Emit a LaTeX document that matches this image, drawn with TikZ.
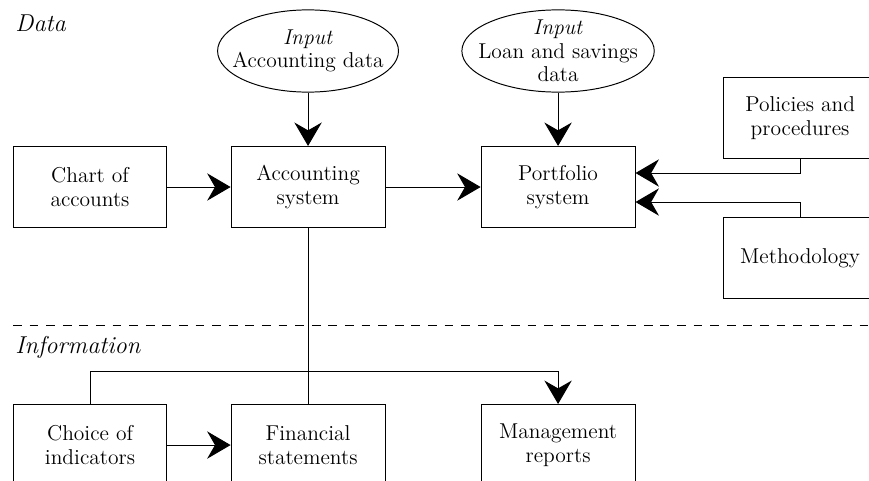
\documentclass[tikz,border=0pt]{standalone}
\usepackage{tikz}
\usetikzlibrary{arrows.meta,calc,shapes,positioning}

\begin{document}
\begin{tikzpicture}[
    on grid,
    node distance = 4.5cm,
    line width    = 0.5pt,
    font          = \fontsize{11}{12}\selectfont
  ]
  \tikzstyle{block} = [
    draw, rectangle,
    text centered,
    align          = center,
    minimum width  = 2.77cm,
    minimum height = 1.46cm
  ]
  \tikzstyle{input} = [
    draw, ellipse,
    text centered,
    align          = center,
    inner xsep     = -6pt,
    inner ysep     = -3pt,
    minimum width  = 3.22cm,
    minimum height = 1.48cm
  ]
  \tikzstyle{title}  = [anchor = west, inner sep = 0pt, font = \fontsize{12.5}{13}\selectfont\itshape]
  \tikzstyle{arrow}  = [draw, -{Stealth[length=12pt, width=14pt, inset=4pt]}]
  \tikzstyle{line}   = [draw]
  \tikzstyle{split}  = [draw, dash pattern = on 4.5pt off 4pt]

  \useasboundingbox (0,0) rectangle (15.64,-8.64);

  \node [block] at (5.544,-3.366)                     (acc)    {Accounting \\ system};
  \node [block, left = 3.924cm of acc]                (chart)  {Chart of \\ accounts};
  \node [block, right = of acc]                       (port)   {Portfolio \\ system};
  \node [input, above = 2.448cm of acc]               (inacc)  {\textit{Input} \\ Accounting data};
  \node [input, above = 2.448cm of port]              (inloan) {\textit{Input} \\ Loan and savings \\ data};
  \node [block, above right = 1.242cm and 4.356cm of port] (policy) {Policies and \\ procedures};
  \node [block, below = 2.52cm of policy]             (method) {Methodology};

  \node [block, below = 4.644cm of chart]             (choice) {Choice of \\ indicators};
  \node [block, below = 4.644cm of acc]               (fin)    {Financial \\ statements};
  \node [block, below = 4.644cm of port]              (mgmt)   {Management \\ reports};

  \node [title] at (0.27,-0.414)                      (data)   {Data};
  \node [title] at (0.27,-6.246)                      (info)   {Information};

  \coordinate (divl) at (0.234,-5.85);
  \coordinate (divr) at (15.64,-5.85);
  \path [split] (divl) -- (divr);

  \path [arrow] (inacc)  -- (acc);
  \path [arrow] (inloan) -- (port);
  \path [arrow] (chart)  -- (acc);
  \path [arrow] (acc)    -- (port);
  \path [arrow] (policy) |- ([yshift = 0.252cm]port.east);
  \path [arrow] (method) |- ([yshift = -0.27cm]port.east);

  \path [line]  (acc)    -- (fin);
  \path [arrow] (choice) -- (fin);
  \path [arrow] (choice.north) -- ++(0,0.594) -| (mgmt);
\end{tikzpicture}
\end{document}
